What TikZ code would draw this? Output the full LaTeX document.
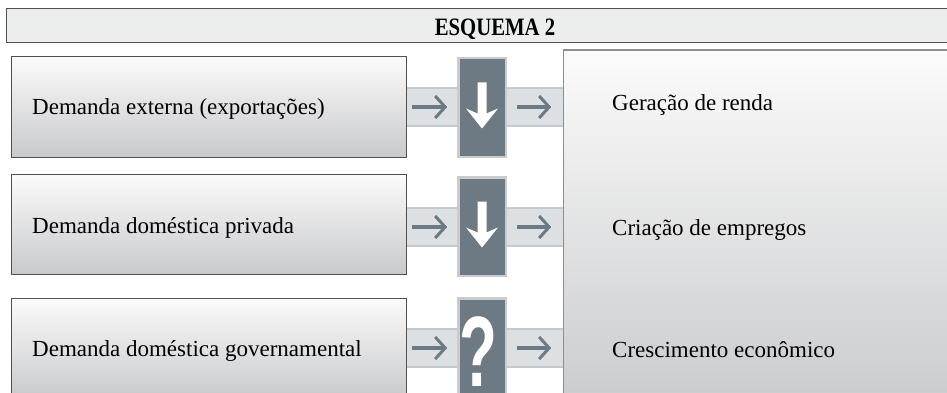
\documentclass[tikz,border=0pt]{standalone}
\usepackage{fontspec}
\setmainfont{Liberation Serif}
\newfontfamily\qfont{Liberation Sans}
\usetikzlibrary{arrows.meta}
\definecolor{hdrfill}{HTML}{ECEDED}
\definecolor{boxedge}{HTML}{505050}
\definecolor{rboxedge}{HTML}{8E8E8E}
\definecolor{gtop}{HTML}{FBFBFB}
\definecolor{gbot}{HTML}{C8C9CB}
\definecolor{bandfill}{HTML}{DCE0E3}
\definecolor{bandedge}{HTML}{C6C8CA}
\definecolor{colfill}{HTML}{6D7A83}
\definecolor{coledge}{HTML}{C9CBCD}
\definecolor{arrowgray}{HTML}{6D7A83}
\tikzset{
  hdr/.style={draw=boxedge, line width=1pt, fill=hdrfill, inner sep=0pt,
    minimum width=980pt, minimum height=34pt},
  titletext/.style={inner sep=0pt, anchor=base,
    font=\fontsize{25}{28}\selectfont\bfseries},
  srcbox/.style={draw=boxedge, line width=1pt, top color=gtop, bottom color=gbot,
    inner sep=0pt, minimum width=395pt, minimum height=100pt},
  resbox/.style={draw=rboxedge, line width=1.2pt, top color=gtop, bottom color=gbot,
    inner sep=0pt, minimum width=397pt, minimum height=370pt},
  band/.style={fill=bandfill, inner sep=0pt, minimum height=38pt},
  bandline/.style={draw=bandedge, line width=1.5pt},
  colbox/.style={draw=coledge, line width=2.5pt, fill=colfill, inner sep=0pt,
    minimum width=47.5pt, minimum height=98.5pt},
  flowarrow/.style={draw=arrowgray, line width=3.5pt,
    -{Straight Barb[length=10pt,width=22pt,line width=3pt]}},
  lbl/.style={font=\fontsize{23}{26}\selectfont, inner sep=0pt, anchor=base west},
  downarrow/.style={fill=white, draw=none},
}
\begin{document}
\begin{tikzpicture}[x=1pt,y=-1pt]
\useasboundingbox (0,0) rectangle (947,393);
% header
\node[hdr] (hdr) at (496,26) {};
\node[titletext] (title) at (495,35.5) {\scalebox{0.83}[1]{ESQUEMA 2}};
% bands (behind)
\foreach \r/\cy in {1/107, 2/227, 3/348} {
  \node[band, minimum width=51pt] (bl\r) at (431.5,\cy) {};
  \node[band, minimum width=56pt] (br\r) at (535,\cy) {};
  \draw[bandline] (bl\r.north west) -- (bl\r.north east);
  \draw[bandline] (bl\r.south west) -- (bl\r.south east);
  \draw[bandline] (br\r.north west) -- (br\r.north east);
  \draw[bandline] (br\r.south west) -- (br\r.south east);
  \draw[flowarrow] ([xshift=6pt]bl\r.west) -- ([xshift=-10pt]bl\r.east);
  \draw[flowarrow] ([xshift=10pt]br\r.west) -- ([xshift=-12pt]br\r.east);
}
% source boxes
\node[srcbox] (s1) at (208.5,107) {};
\node[srcbox] (s2) at (208.5,224) {};
\node[srcbox] (s3) at (208.5,348) {};
\node[lbl] (t1) at (32,115) {Demanda externa (exportações)};
\node[lbl] (t2) at (32,233) {Demanda doméstica privada};
\node[lbl] (t3) at (32,356) {Demanda doméstica governamental};
% columns
\node[colbox] (c1) at (482,107.5) {};
\node[colbox] (c2) at (482,226.5) {};
\node[colbox] (c3) at (482,347.5) {};
\foreach \c in {c1,c2} {
  \fill[downarrow] ([shift={(-4.5,-25)}]\c.center) -- ([shift={(4.5,-25)}]\c.center)
    -- ([shift={(4.5,6)}]\c.center) -- ([shift={(16,1)}]\c.center)
    -- ([shift={(0,21)}]\c.center) -- ([shift={(-16,1)}]\c.center)
    -- ([shift={(-4.5,6)}]\c.center) -- cycle;
}
\node[inner sep=0pt, text=white, anchor=base, font=\qfont\fontsize{100}{100}\selectfont\bfseries]
  (q) at (478,386) {\scalebox{0.62}[1]{?}};
% result box
\node[resbox] (res) at (762,235) {};
\node[lbl] (r1) at (612,111) {Geração de renda};
\node[lbl] (r2) at (612,235) {Criação de empregos};
\node[lbl] (r3) at (612,357) {Crescimento econômico};
\end{tikzpicture}
\end{document}
